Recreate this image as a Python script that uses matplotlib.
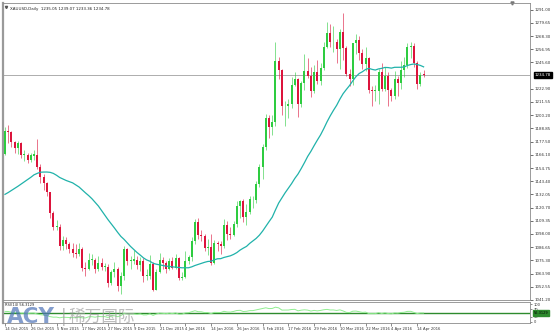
import matplotlib
matplotlib.use('Agg')
import matplotlib.pyplot as plt
import numpy as np
import pandas as pd

# ---------------- data ----------------
holidays = ['2015-12-25', '2016-01-01', '2016-03-25']
dates = [d for d in pd.bdate_range('2015-10-14', '2016-04-18') if d.strftime('%Y-%m-%d') not in holidays]

opens = [1166.5,1187,1186,1177,1172,1176,1166,1166,1162,1165,1166,1156,1147,1142,1134,1116,1104,1104,1088,1093,
         1089,1085,1082,1081,1085,1069,1068,1076,1076,1068,1073,1070,1070,1056,1065,1068,1053,1062,1085,1075,
         1075,1076,1071,1075,1062,1062,1072,1050,1065,1076,1073,1068,1075,1069,1077,1060,1061,1075,1078,1092,
         1108,1097,1096,1086,1087,1073,1090,1089,1088,1106,1098,1097,1107,1122,1126,1113,1117,1128,1127,1141,
         1156,1173,1198,1190,1194,1247,1239,1208,1208,1210,1226,1231,1210,1228,1238,1234,1221,1237,1230,1241,
         1259,1271,1263,1263,1257,1272,1258,1236,1231,1262,1265,1254,1244,1249,1222,1221,1221,1237,1223,1234,
         1222,1217,1231,1228,1239,1243,1259,1260,1245,1227,1235.05]
highs = [1190,1191.5,1187,1178,1178,1177,1170,1168,1168,1170,1180,1158,1150,1143,1134,1118,1110,1107,1096,1095,
         1091,1090,1089,1090,1087,1074,1082,1081,1077,1079,1077,1073,1072,1067,1074,1070,1065,1088,1086,1079,
         1084,1079,1078,1077,1068,1080,1074,1068,1082,1078,1075,1077,1078,1081,1078,1065,1083,1080,1095,1111,
         1112,1101,1098,1094,1098,1093,1092,1092,1111,1109,1104,1109,1126,1127,1128,1124,1131,1131,1144,1158,
         1175,1201,1200,1200,1263,1250,1240,1212,1214,1233,1237,1232,1230,1253,1249,1242,1243,1248,1245,1263,
         1280,1279,1277,1266,1274,1288,1260,1240,1262,1270,1268,1257,1259,1250,1225,1226,1240,1245,1242,1237,
         1224,1238,1234,1247,1250,1262,1263,1262,1247,1237,1239.07]
lows = [1166,1176,1173,1168,1167,1163,1161,1159,1160,1162,1154,1142,1136,1131,1112,1101,1101,1084,1084,1085,
        1082,1078,1077,1079,1066,1062,1067,1071,1064,1066,1067,1066,1052,1054,1061,1049,1046,1058,1071,1068,
        1072,1068,1066,1057,1058,1059,1049,1050,1064,1068,1064,1067,1068,1068,1058,1058,1060,1072,1075,1089,
        1094,1092,1083,1080,1071,1072,1083,1081,1086,1093,1094,1096,1104,1112,1108,1106,1115,1120,1125,1138,
        1145,1170,1181,1183,1191,1231,1200,1191,1198,1206,1225,1199,1207,1222,1232,1216,1219,1227,1226,1239,
        1258,1259,1255,1245,1240,1248,1234,1225,1226,1253,1248,1240,1238,1219,1208,1212,1210,1221,1221,1208,
        1212,1214,1217,1223,1233,1241,1249,1242,1223,1225,1233.36]
closes = [1187,1186,1177,1172,1176,1166,1166.5,1162,1166,1166.5,1156,1147,1142,1134,1116,1104,1104.5,1088,1093,1089,
          1085,1082,1081,1085,1069,1068,1076,1076.5,1068,1073,1070,1070.5,1056,1065,1068,1053,1062,1085,1075,1076,
          1076.5,1071,1075,1062,1062.5,1072,1050,1065,1076,1073,1068,1075,1069,1077,1060,1061,1075,1078,1092,1108,
          1097,1096,1086,1087,1073,1090,1089,1088,1106,1098,1097,1107,1122,1126,1113,1117,1128,1128.5,1141,1156,
          1173,1198,1190,1194,1247,1239,1208,1208.5,1210,1226,1231,1210,1228,1238,1234,1221,1237,1230,1241,1259,
          1271,1263,1263.5,1257,1272,1258,1236,1231,1262,1265,1254,1244,1249,1222,1221,1221.5,1237,1223,1234,1222,
          1217,1231,1228,1239,1243,1259,1260,1245,1227,1235,1234.78]
# closes before the first visible bar (needed for the moving average / RSI)
prior_closes = [1139,1124,1121,1120,1108,1110,1103,1108,1102,1118,1117,1138,1133,1124,1131,1153,1146,1132,1127,
                1115,1113,1136,1137,1146,1143,1147,1156,1163,1166]

tick_labels = ['14 Oct 2015','26 Oct 2015','5 Nov 2015','17 Nov 2015','27 Nov 2015','9 Dec 2015','21 Dec 2015',
               '4 Jan 2016','14 Jan 2016','26 Jan 2016','5 Feb 2016','17 Feb 2016','29 Feb 2016','10 Mar 2016',
               '22 Mar 2016','4 Apr 2016','14 Apr 2016']
price_ticks = [1041.20,1052.55,1063.90,1075.30,1086.65,1098.00,1109.35,1120.70,1132.05,1143.40,1154.75,1166.10,
               1177.50,1188.85,1200.20,1211.55,1222.90,1245.60,1256.95,1268.30,1279.65,1291.00]
title_text = 'XAUUSD,Daily  1235.05 1239.07 1233.36 1234.78'
last_price = 1234.78
rsi_text = 'RSI(14) 56.3129'
rsi_last = 56.3129
ma_period = 30
rsi_period = 14

n = len(closes)
assert len(opens) == n == len(highs) == len(lows) == len(dates)

# ---------------- derived ----------------
allc = pd.Series(prior_closes + closes)
ma = allc.rolling(ma_period, min_periods=1).mean().values[len(prior_closes):]
delta = allc.diff()
gain = delta.clip(lower=0)
loss = (-delta).clip(lower=0)
ag = gain.ewm(alpha=1/rsi_period, adjust=False).mean()
al = loss.ewm(alpha=1/rsi_period, adjust=False).mean()
rsi = (100 - 100/(1 + ag/al)).values[len(prior_closes):]

x = np.arange(n)
date_strs = [d.strftime('%-d %b %Y') for d in dates]
tick_pos = [date_strs.index(t) for t in tick_labels]

# ---------------- figure ----------------
W, H = 554, 336
fig = plt.figure(figsize=(W/100, H/100), dpi=100)
fig.patch.set_facecolor('white')

def axrect(l, t, r, b):
    return [l/W, (H-b)/H, (r-l)/W, (b-t)/H]

ax = fig.add_axes(axrect(3, 3, 530, 300))
ax2 = fig.add_axes(axrect(3, 302, 530, 323))

BULL = '#2ecc40'
BEAR = '#dc143c'
colors = [BULL if c >= o else BEAR for o, c in zip(opens, closes)]
o_arr = np.array(opens); c_arr = np.array(closes)
body_bot = np.minimum(o_arr, c_arr)
body_h = np.maximum(np.abs(c_arr - o_arr), 0.5)

ax.vlines(x, lows, highs, colors=colors, linewidth=0.55, alpha=0.75, zorder=2)
ax.bar(x, body_h, bottom=body_bot, width=0.62, color=colors, linewidth=0, zorder=3)
ax.plot(x, ma, color='#20b2aa', linewidth=0.9, zorder=4)
ax.axhline(last_price, color='#a0a0a0', linewidth=0.6, zorder=1)

ax.set_xlim(-0.62, 163.05)
ax.set_ylim(1041.19, 1296.73)
ax.yaxis.tick_right()
ax.set_yticks(price_ticks)
ax.set_yticklabels(['%.2f' % v for v in price_ticks])
ax.tick_params(axis='y', labelsize=2.9, length=2, width=0.5, pad=1.5, colors='#333333')
ax.set_xticks([])
for s in ax.spines.values():
    s.set_color('#8a8a8a'); s.set_linewidth(0.6)
ax.spines['left'].set_linewidth(1.6)
ax.spines['left'].set_color('#9a9a9a')

ax.annotate('%.2f' % last_price, xy=(1.0, last_price), xycoords=('axes fraction', 'data'),
            xytext=(3.5, 0), textcoords='offset points', ha='left', va='center',
            fontsize=2.9, color='white',
            bbox=dict(boxstyle='square,pad=0.25', fc='black', ec='black'))
ax.text(0.013, 0.985, title_text, transform=ax.transAxes, fontsize=2.9, va='top', ha='left', color='#222222')
ax.plot(0.006, 0.988, marker='v', ms=1.6, color='#555555', transform=ax.transAxes, clip_on=False)
ax.plot(0.966, 1.0, marker='v', ms=2.2, color='#777777', transform=ax.transAxes, clip_on=False)

# indicator panel
ax2.plot(x, rsi, color='#90ee90', linewidth=0.7, zorder=3)
ax2.axhline(50, color='#2e8b2e', linewidth=1.0, zorder=2)
ax2.set_xlim(-0.62, 163.05)
ax2.set_ylim(-6, 112)
ax2.yaxis.tick_right()
ax2.set_yticks([100, 70, 30, 0])
ax2.set_yticklabels(['100', '70', '30', '0'])
ax2.tick_params(axis='y', labelsize=2.6, length=1.5, width=0.4, pad=1.2, colors='#333333')
ax2.set_xticks(tick_pos)
ax2.set_xticklabels(tick_labels)
ax2.tick_params(axis='x', labelsize=2.7, length=2, width=0.4, pad=1.2, colors='#333333')
for lbl in ax2.get_xticklabels():
    lbl.set_ha('left')
for s in ax2.spines.values():
    s.set_color('#8a8a8a'); s.set_linewidth(0.6)
ax2.spines['left'].set_linewidth(1.6)
ax2.spines['left'].set_color('#9a9a9a')
ax2.text(0.004, 0.95, rsi_text, transform=ax2.transAxes, fontsize=2.6, va='top', ha='left', color='#222222')
ax2.annotate('%.4f' % rsi_last, xy=(1.0, 50), xycoords=('axes fraction', 'data'),
             xytext=(3.0, 0), textcoords='offset points', ha='left', va='center',
             fontsize=2.5, color='black',
             bbox=dict(boxstyle='square,pad=0.2', fc='#2e8b2e', ec='#2e8b2e'))

# watermark logo
fig.text(7/W, 1 - 327/H, 'ACY', fontsize=15.5, fontweight='bold', color='#4f74b8', alpha=0.7,
         ha='left', va='bottom', family='DejaVu Sans')
fig.text(61/W, 1 - 326/H, '|', fontsize=12, color='#9a9a9a', alpha=0.7, ha='left', va='bottom')
fig.text(69/W, 1 - 326/H, '稀万国际', fontsize=12, color='#9a9a9a', alpha=0.65,
         ha='left', va='bottom', family=['Noto Sans CJK SC', 'DejaVu Sans'])

fig.savefig('out.png', dpi=100)
